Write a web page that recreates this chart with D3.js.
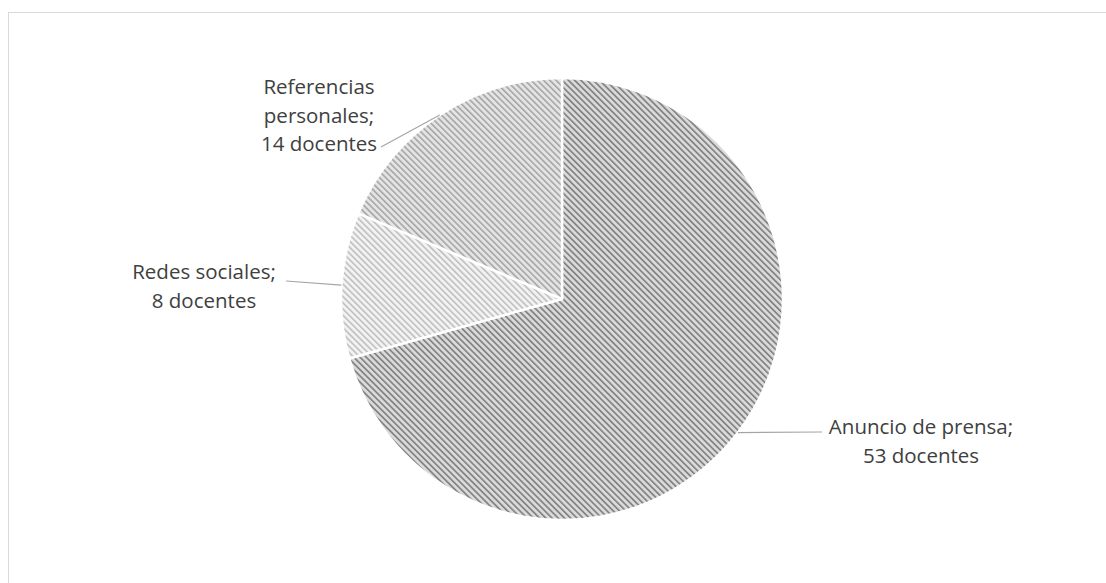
<!DOCTYPE html>
<html>
<head>
<meta charset="utf-8">
<script src="https://cdn.jsdelivr.net/npm/d3@7"></script>
<style>
  body { margin: 0; background: #fff; }
  svg { display: block; }
</style>
</head>
<body>
<div id="container"></div>
<script>
// data
let categories = ["Anuncio de prensa", "Redes sociales", "Referencias personales"];
let values = [53, 8, 14];
let unit = "docentes";

let w = 1106;
let h = 583;
let cx = 562;
let cy = 299;
let radius = 221;

// label layout (lines, anchor position, leader end)
let labelLayout = [
  { lines: ["Anuncio de prensa;", "53 docentes"], x: 921, y: 434, lx: 822, ly: 432 },
  { lines: ["Redes sociales;", "8 docentes"], x: 204, y: 279, lx: 286, ly: 281 },
  { lines: ["Referencias", "personales;", "14 docentes"], x: 319, y: 94, lx: 381, ly: 147 }
];

let fills = [
  { bg: "#dadada", fg: "#7d7d7d" },
  { bg: "#f2f2f2", fg: "#bfbfbf" },
  { bg: "#e4e4e4", fg: "#a6a6a6" }
];

let viz = d3.select("#container")
  .append("svg")
  .attr("width", w)
  .attr("height", h);

// chart area border
viz.append("rect")
  .attr("x", 8.5)
  .attr("y", 12.5)
  .attr("width", w + 10)
  .attr("height", h + 10)
  .attr("fill", "none")
  .attr("stroke", "#d9d9d9")
  .attr("stroke-width", 1);

// stripe patterns
let defs = viz.append("defs");
fills.forEach((f, i) => {
  let p = defs.append("pattern")
    .attr("id", "stripe" + i)
    .attr("patternUnits", "userSpaceOnUse")
    .attr("width", 4.4)
    .attr("height", 4.4)
    .attr("patternTransform", "rotate(-45)");
  p.append("rect").attr("width", 4.4).attr("height", 4.4).attr("fill", f.bg);
  p.append("rect").attr("width", 1.6).attr("height", 4.4).attr("fill", f.fg);
});

let pie = d3.pie().sort(null).value(d => d)(values);
let arc = d3.arc().innerRadius(0).outerRadius(radius);

let pieGroup = viz.append("g")
  .attr("transform", "translate(" + cx + "," + cy + ")");

pieGroup.selectAll("path")
  .data(pie)
  .enter()
  .append("path")
  .attr("d", arc)
  .attr("fill", (d, i) => "url(#stripe" + i + ")")
  .attr("stroke", "#fff")
  .attr("stroke-width", 2.5)
  .attr("stroke-linejoin", "round");

// leader lines
pie.forEach((d, i) => {
  let a = (d.startAngle + d.endAngle) / 2;
  let x0 = cx + radius * Math.sin(a);
  let y0 = cy - radius * Math.cos(a);
  let L = labelLayout[i];
  viz.append("line")
    .attr("x1", x0)
    .attr("y1", y0)
    .attr("x2", L.lx)
    .attr("y2", L.ly)
    .attr("stroke", "#a6a6a6")
    .attr("stroke-width", 1.2);
});

// labels
labelLayout.forEach((L, i) => {
  let t = viz.append("text")
    .attr("x", L.x)
    .attr("y", L.y)
    .attr("text-anchor", "middle")
    .attr("font-family", "'Open Sans', sans-serif")
    .attr("font-size", "20.5px")
    .attr("fill", "#404040");
  L.lines.forEach((line, j) => {
    t.append("tspan")
      .attr("x", L.x)
      .attr("dy", j === 0 ? 0 : 28.5)
      .text(line);
  });
});
</script>
</body>
</html>
